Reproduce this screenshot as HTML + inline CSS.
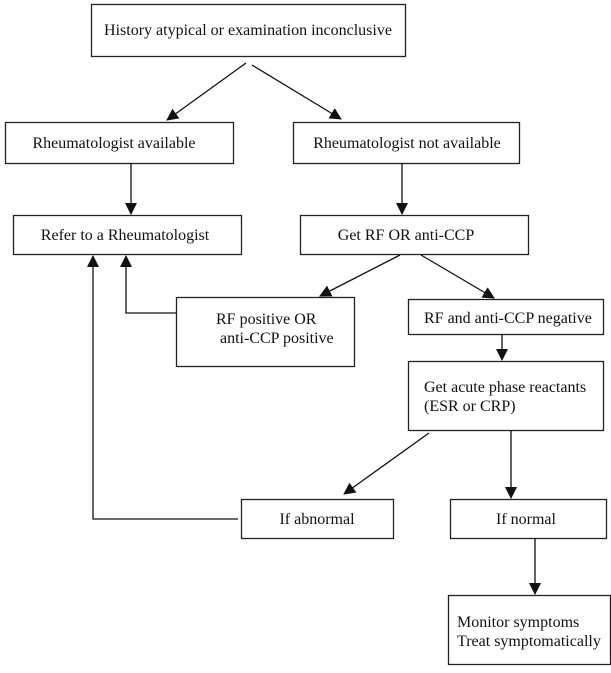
<!DOCTYPE html>
<html><head><style>
body{margin:0;background:#fff}
svg text{font-family:"Liberation Serif",serif;font-size:16px;fill:#111}
</style></head><body>
<svg width="611" height="668" viewBox="0 0 611 668" xmlns="http://www.w3.org/2000/svg">
<defs><marker id="a" markerWidth="12" markerHeight="12" refX="11" refY="6" orient="auto" markerUnits="userSpaceOnUse"><path d="M0,0 L12,6 L0,12 z" fill="#111"/></marker></defs>
<g fill="none" stroke="#222" stroke-width="1.3">
<rect x="91.5" y="4.5" width="314" height="52"/>
<rect x="5.5" y="122.5" width="228" height="41"/>
<rect x="293.5" y="122.5" width="226" height="41"/>
<rect x="13.5" y="215.5" width="228" height="39"/>
<rect x="300.5" y="215.5" width="228" height="39"/>
<rect x="176.5" y="297.5" width="178" height="69"/>
<rect x="408.5" y="299.5" width="195" height="35"/>
<rect x="408.5" y="361.5" width="195" height="69"/>
<rect x="241.5" y="499.5" width="152" height="39"/>
<rect x="450.5" y="499.5" width="156" height="39"/>
<rect x="448.5" y="595.5" width="162" height="69"/>
</g>
<g stroke="#111" stroke-width="1.3" fill="none" marker-end="url(#a)">
<line x1="246" y1="63" x2="167" y2="120"/>
<line x1="252" y1="65" x2="341" y2="119"/>
<line x1="131" y1="163" x2="131" y2="214"/>
<line x1="402" y1="163" x2="402" y2="214"/>
<line x1="400" y1="255" x2="320" y2="296"/>
<line x1="421" y1="255" x2="494" y2="298"/>
<line x1="502" y1="334" x2="502" y2="360"/>
<line x1="429" y1="433" x2="344" y2="494"/>
<line x1="511" y1="430" x2="511" y2="498"/>
<line x1="535" y1="538" x2="535" y2="594"/>
<polyline points="238,519 93,519 93,256"/>
<polyline points="176,313 126,313 126,256"/>
</g>
<text x="248" y="35" text-anchor="middle">History atypical or examination inconclusive</text>
<text x="114" y="148" text-anchor="middle">Rheumatologist available</text>
<text x="407" y="148" text-anchor="middle">Rheumatologist not available</text>
<text x="125" y="240" text-anchor="middle">Refer to a Rheumatologist</text>
<text x="406" y="240" text-anchor="middle">Get RF OR anti-CCP</text>
<text x="216" y="324">RF positive OR</text>
<text x="220" y="343">anti-CCP positive</text>
<text x="424" y="323">RF and anti-CCP negative</text>
<text x="424" y="392">Get acute phase reactants</text>
<text x="424" y="411">(ESR or CRP)</text>
<text x="317" y="524" text-anchor="middle">If abnormal</text>
<text x="526" y="524" text-anchor="middle">If normal</text>
<text x="457" y="627">Monitor symptoms</text>
<text x="457" y="646">Treat symptomatically</text>
</svg>
</body></html>
